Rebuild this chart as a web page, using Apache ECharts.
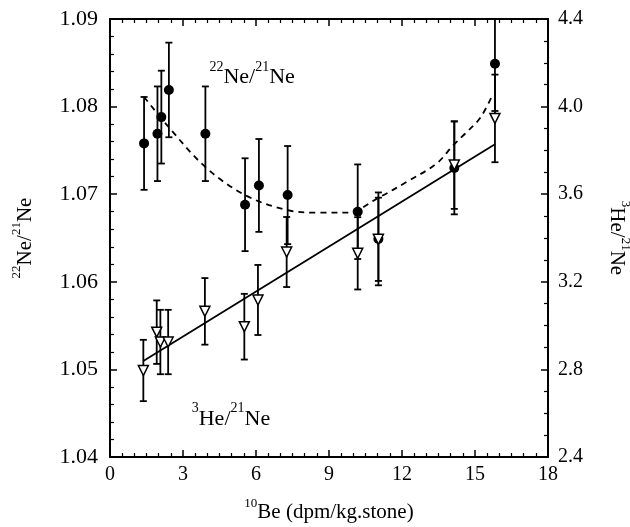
<!DOCTYPE html>
<html>
<head>
<meta charset="utf-8">
<script src="https://cdn.jsdelivr.net/npm/echarts@6/dist/echarts.min.js"></script>
<style>
  html, body { margin: 0; padding: 0; background: #fff; }
  #chart { width: 630px; height: 527px; }
</style>
</head>
<body>
<div id="chart"></div>
<script>
// 10Be activity (dpm/kg stone) for each sample
const neX = [1.40, 1.95, 2.11, 2.42, 3.92, 5.55, 6.12, 7.30, 10.18, 11.03, 14.15, 15.82];
// 22Ne/21Ne ratio and its 1-sigma uncertainty
const neRatio = [1.0758, 1.0769, 1.0788, 1.0819, 1.0769, 1.0688, 1.0710, 1.0699, 1.0680, 1.0649, 1.0730, 1.0849];
const neErr = [0.0053, 0.0054, 0.0053, 0.0054, 0.0054, 0.0053, 0.0053, 0.0056, 0.0054, 0.0053, 0.0053, 0.0054];

// 3He/21Ne ratio and its uncertainty
const heX = [1.37, 1.92, 2.07, 2.39, 3.90, 5.52, 6.08, 7.26, 10.18, 11.03, 14.15, 15.82];
const heRatio = [2.795, 2.970, 2.925, 2.925, 3.065, 2.995, 3.117, 3.336, 3.330, 3.394, 3.733, 3.946];
const heErr = [0.140, 0.145, 0.147, 0.147, 0.152, 0.150, 0.160, 0.160, 0.165, 0.190, 0.200, 0.200];

// linear fit through the 3He/21Ne points
const fitX = [1.37, 15.82];
const fitY = [2.838, 3.828];

// smooth trend through the 22Ne/21Ne points
const trendX = [1.40, 2.40, 3.92, 5.55, 7.26, 8.50, 9.73, 11.10, 12.19, 13.42, 14.11, 14.59, 15.21, 15.70];
const trendY = [1.0811, 1.0777, 1.0731, 1.0699, 1.0682, 1.0679, 1.0679, 1.0697, 1.0714, 1.0735, 1.0756, 1.0769, 1.0787, 1.0812];

// axis ranges and ticks
const xMin = 0, xMax = 18, xStep = 3;
const yLeftMin = 1.04, yLeftMax = 1.09, yLeftStep = 0.01;
const yRightMin = 2.4, yRightMax = 4.4, yRightStep = 0.4;

const FONT = 'Liberation Serif';
const zip = (a, b, c) => a.map((v, i) => c ? [v, b[i], c[i]] : [v, b[i]]);

function errorBars(params, api) {
  const x = api.value(0), y = api.value(1), e = api.value(2);
  const top = api.coord([x, y + e]);
  const bot = api.coord([x, y - e]);
  const cap = 3.5;
  const style = { stroke: '#000', lineWidth: 1.8 };
  return {
    type: 'group',
    children: [
      { type: 'line', shape: { x1: top[0], y1: top[1], x2: bot[0], y2: bot[1] }, style },
      { type: 'line', shape: { x1: top[0] - cap, y1: top[1], x2: top[0] + cap, y2: top[1] }, style },
      { type: 'line', shape: { x1: bot[0] - cap, y1: bot[1], x2: bot[0] + cap, y2: bot[1] }, style }
    ]
  };
}

const rich = {
  n: { fontFamily: FONT, fontSize: 21, color: '#000', verticalAlign: 'bottom', lineHeight: 26 },
  s: { fontFamily: FONT, fontSize: 13, color: '#000', verticalAlign: 'top', lineHeight: 26 }
};
const richBig = {
  n: { fontFamily: FONT, fontSize: 22, color: '#000', verticalAlign: 'bottom', lineHeight: 28, textBorderWidth: 0 },
  s: { fontFamily: FONT, fontSize: 14, color: '#000', verticalAlign: 'top', lineHeight: 28, textBorderWidth: 0 }
};

const axisLineStyle = { color: '#000', width: 2 };
const tickCommon = { show: true, inside: true, length: 7, lineStyle: { color: '#000', width: 1.5 } };
const minorCommon = { show: true, length: 4, lineStyle: { color: '#000', width: 1.2 } };

const chart = echarts.init(document.getElementById('chart'), null, { renderer: 'canvas' });

chart.setOption({
  animation: false,
  backgroundColor: '#fff',
  grid: { left: 110, right: 82, top: 19, bottom: 70, containLabel: false, outerBoundsMode: 'none' },
  xAxis: [
    {
      type: 'value', position: 'bottom', min: xMin, max: xMax, interval: xStep,
      axisLine: { show: true, onZero: false, lineStyle: axisLineStyle },
      axisTick: tickCommon,
      minorTick: Object.assign({ splitNumber: 6 }, minorCommon),
      splitLine: { show: false },
      axisLabel: { color: '#000', fontFamily: FONT, fontSize: 20, margin: 8 },
      name: '{s|10}{n|Be (dpm/kg.stone)}',
      nameLocation: 'middle', nameGap: 40,
      nameTextStyle: { rich: rich }
    },
    {
      type: 'value', position: 'top', min: xMin, max: xMax, interval: xStep,
      axisLine: { show: true, onZero: false, lineStyle: axisLineStyle },
      axisTick: tickCommon,
      minorTick: Object.assign({ splitNumber: 6 }, minorCommon),
      splitLine: { show: false },
      axisLabel: { show: false }
    }
  ],
  yAxis: [
    {
      type: 'value', position: 'left', min: yLeftMin, max: yLeftMax, interval: yLeftStep,
      axisLine: { show: true, onZero: false, lineStyle: axisLineStyle },
      axisTick: tickCommon,
      minorTick: Object.assign({ splitNumber: 5 }, minorCommon),
      splitLine: { show: false },
      axisLabel: { color: '#000', fontFamily: FONT, fontSize: 22, margin: 12, formatter: v => v.toFixed(2) },
      name: '{s|22}{n|Ne/}{s|21}{n|Ne}',
      nameLocation: 'middle', nameGap: 74, nameRotate: 90,
      nameTextStyle: { rich: rich }
    },
    {
      type: 'value', position: 'right', min: yRightMin, max: yRightMax, interval: yRightStep,
      axisLine: { show: true, onZero: false, lineStyle: axisLineStyle },
      axisTick: tickCommon,
      minorTick: Object.assign({ splitNumber: 4 }, minorCommon),
      splitLine: { show: false },
      axisLabel: { color: '#000', fontFamily: FONT, fontSize: 20, margin: 10, formatter: v => v.toFixed(1) },
      name: '{s|3}{n|He/}{s|21}{n|Ne}',
      nameLocation: 'middle', nameGap: 58, nameRotate: -90,
      nameTextStyle: { rich: rich }
    }
  ],
  series: [
    {
      name: 'Ne trend', type: 'line', xAxisIndex: 0, yAxisIndex: 0,
      data: zip(trendX, trendY), smooth: 0.35, symbol: 'none',
      lineStyle: { color: '#000', width: 1.8, type: [6, 5] }, z: 2
    },
    {
      name: 'He fit', type: 'line', xAxisIndex: 0, yAxisIndex: 1,
      data: zip(fitX, fitY), symbol: 'none',
      lineStyle: { color: '#000', width: 1.8 }, z: 2
    },
    {
      name: 'Ne errors', type: 'custom', xAxisIndex: 0, yAxisIndex: 0,
      data: zip(neX, neRatio, neErr), renderItem: errorBars, clip: true, z: 3,
      encode: { x: 0, y: 1 }
    },
    {
      name: 'He errors', type: 'custom', xAxisIndex: 0, yAxisIndex: 1,
      data: zip(heX, heRatio, heErr), renderItem: errorBars, clip: true, z: 3,
      encode: { x: 0, y: 1 }
    },
    {
      name: '22Ne/21Ne', type: 'scatter', xAxisIndex: 0, yAxisIndex: 0,
      data: zip(neX, neRatio), symbol: 'circle', symbolSize: 10,
      itemStyle: { color: '#000', opacity: 1 }, z: 4
    },
    {
      name: '3He/21Ne', type: 'scatter', xAxisIndex: 0, yAxisIndex: 1,
      data: zip(heX, heRatio), symbol: 'triangle', symbolRotate: 180, symbolSize: [10, 10],
      itemStyle: { color: '#fff', borderColor: '#000', borderWidth: 1.5, opacity: 1 }, z: 5
    },
    {
      name: 'labels', type: 'scatter', xAxisIndex: 0, yAxisIndex: 0,
      symbolSize: 0, silent: true, z: 6,
      itemStyle: { opacity: 1 },
      data: [
        { value: [5.84, 1.0837], label: { formatter: '{s|22}{n|Ne/}{s|21}{n|Ne}' } },
        { value: [4.97, 1.0447], label: { formatter: '{s|3}{n|He/}{s|21}{n|Ne}' } }
      ],
      label: { show: true, position: 'inside', color: '#000', opacity: 1, textBorderWidth: 0, rich: richBig }
    }
  ]
});
</script>
</body>
</html>
